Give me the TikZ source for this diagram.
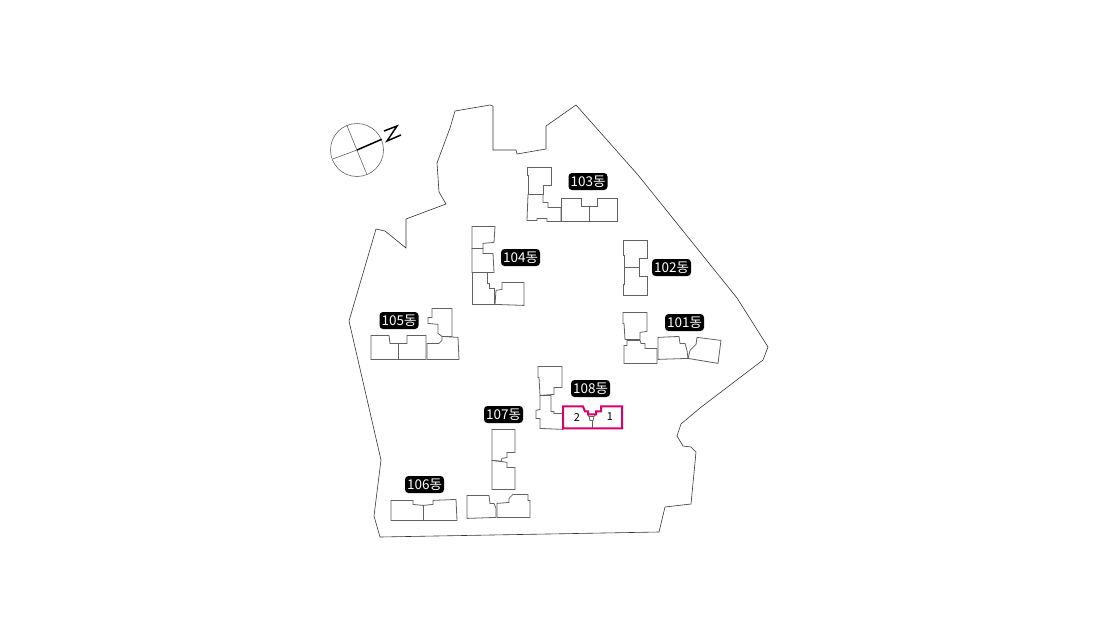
\documentclass[tikz,border=0pt]{standalone}
\usepackage{fontspec}
\setmainfont{Noto Sans CJK KR}
\definecolor{pinkline}{RGB}{214,0,110}
\tikzset{
  site/.style={draw=black!80,line width=0.6pt,line join=miter},
  bldg/.style={draw=black!62,line width=0.8pt,line join=miter},
  unit/.style={draw=pinkline,line width=2pt,line join=miter},
  dong/.style={fill=black,text=white,rounded corners=3.5pt,inner sep=0pt,minimum width=39pt,minimum height=17pt,font=\fontsize{13.5}{13.5}\selectfont},
  unitnum/.style={text=black,inner sep=0pt,font=\fontsize{11}{11}\selectfont},
  compass/.style={draw=black!60,line width=0.6pt},
  north/.style={draw=black,line width=1.5pt,line join=miter}
}
\begin{document}
\begin{tikzpicture}[x=1pt,y=-1pt]
\useasboundingbox (0,0) rectangle (1100,640);
% site
\draw[site] (455,111)--(490,105)--(493,106)--(493,150)--(516,150)--(517,154)--(546,149)--(546,126)--(576,105)--(638,175)--(737,298)--(768,347)--(763,360)--(700,408)--(681,424)--(677,436)--(683,446)--(691,447)--(696,452)--(691,504)--(665,507)--(659,532)--(380,537)--(374,516)--(381,460)--(349,321)--(376,229)--(385,231)--(406,248)--(406,219)--(446,204)--(439,192)--(437,163)--(450,128)--cycle;
% compass
\draw[compass] (357,150) circle (26.5);
\draw[compass] (346.7,125)--(366.7,174);
\draw[compass] (332.7,159)--(357,150);
\draw[north] (357,150)--(381.7,139.3);
\draw[north] (384,131)--(397,126)--(387,141)--(401,135);
\begin{scope}[yshift=-0.4pt]
% 103
\draw[bldg] (527,167)--(551,167)--(551,185)--(543,185)--(543,194)--(528,194)--(528,175)--(527,175)--cycle;
\draw[bldg] (528,194)--(543,194)--(543,202)--(548,202)--(548,207)--(561,207)--(561,221)--(547,221)--(547,218)--(537,218)--(537,220)--(527,220)--cycle;
\draw[bldg] (561,198)--(581,198)--(581,206)--(597,206)--(597,198)--(617,198)--(617,221)--(561,221)--cycle;
\draw[bldg] (589,206)--(589,221);
% 104
\draw[bldg] (472,226)--(495,226)--(494,242)--(483,243)--(483,248)--(472,248)--cycle;
\draw[bldg] (472,248)--(483,248)--(483,253)--(493,253)--(494,272)--(472,272)--cycle;
\draw[bldg] (472,272)--(487,272)--(487,283)--(489,283)--(489,288)--(494,288)--(494,304)--(472,304)--cycle;
\draw[bldg] (495,304)--(496,290)--(502,289)--(502,282)--(524,282)--(524,305)--cycle;
% 102
\draw[bldg] (623,240)--(647,240)--(647,258)--(639,258)--(639,267)--(624,267)--(624,255)--(623,255)--cycle;
\draw[bldg] (624,267)--(639,267)--(639,276)--(647,276)--(647,295)--(623,295)--(623,284)--(624,284)--cycle;
% 101
\draw[bldg] (623,312)--(647,312)--(647,331)--(640,332)--(640,339)--(625,339)--(624,323)--(623,323)--cycle;
\draw[bldg] (627,340)--(640,340)--(641,343)--(645,343)--(645,348)--(657,348)--(657,363)--(624,363)--(624,345)--(627,345)--cycle;
\draw[bldg] (658,337)--(679,336)--(680,343)--(685,343)--(687,350)--(688,358)--(658,359)--cycle;
\draw[bldg] (697,337)--(721,340)--(718,363)--(688,358)--(690,350)--(696,344)--cycle;
% 105
\draw[bldg] (432,308)--(452,308)--(452,336)--(442,336)--(438,333)--(438,324)--(428,323)--(428,317)--(432,317)--cycle;
\draw[bldg] (442,336)--(458,337)--(459,359)--(427,359)--(427,343)--(439,343)--(442,340)--cycle;
\draw[bldg] (371,335)--(389,335)--(390,343)--(407,343)--(407,335)--(426,335)--(426,359)--(371,359)--cycle;
\draw[bldg] (398,343)--(398,359);
% 108
\draw[bldg] (538,366)--(562,366)--(562,387)--(554,387)--(554,394)--(540,395)--(539,377)--(538,377)--cycle;
\draw[bldg] (540,395)--(551,395)--(551,411)--(554,411)--(554,413)--(563,413)--(563,429)--(540,428)--(540,418)--(536,418)--(536,410)--(540,409)--cycle;
\draw[bldg] (588,414)--(589,416)--(594,416)--(596,414);
\draw[bldg] (589,416)--(590,420)--(593,420)--(594,416);
\draw[bldg] (592,420)--(592,428);
\draw[unit] (563,406)--(583,406)--(585,411)--(588,411)--(588,414)--(596,414)--(596,411)--(601,411)--(601,406)--(622,406)--(622,428)--(563,428)--cycle;
% 107
\draw[bldg] (492,429)--(515,429)--(515,452)--(507,452)--(507,457)--(502,458)--(501,461)--(492,460)--cycle;
\draw[bldg] (492,460)--(501,461)--(507,462)--(507,467)--(515,467)--(515,489)--(492,489)--cycle;
\draw[bldg] (467,495)--(489,495)--(490,503)--(494,503)--(496,508)--(496,517)--(467,518)--cycle;
\draw[bldg] (497,517)--(497,503)--(509,502)--(509,498)--(513,494)--(528,494)--(528,500)--(530,500)--(530,517)--cycle;
% 106
\draw[bldg] (391,500)--(413,500)--(413,504)--(423,505)--(433,504)--(433,500)--(456,499)--(457,520)--(391,520)--cycle;
\draw[bldg] (423,505)--(423,520);
\end{scope}
\node[unitnum] (u2) at (577,417) {2};
\node[unitnum] (u1) at (610,417) {1};
% labels
\node[dong] (d103) at (588,181.5) {103동};
\node[dong] (d104) at (520.5,257.5) {104동};
\node[dong] (d102) at (671.5,267.5) {102동};
\node[dong] (d101) at (684.5,322.5) {101동};
\node[dong] (d105) at (399,320.5) {105동};
\node[dong] (d108) at (590.5,388.5) {108동};
\node[dong] (d107) at (503.5,414.5) {107동};
\node[dong] (d106) at (424.5,484.5) {106동};
\end{tikzpicture}
\end{document}
